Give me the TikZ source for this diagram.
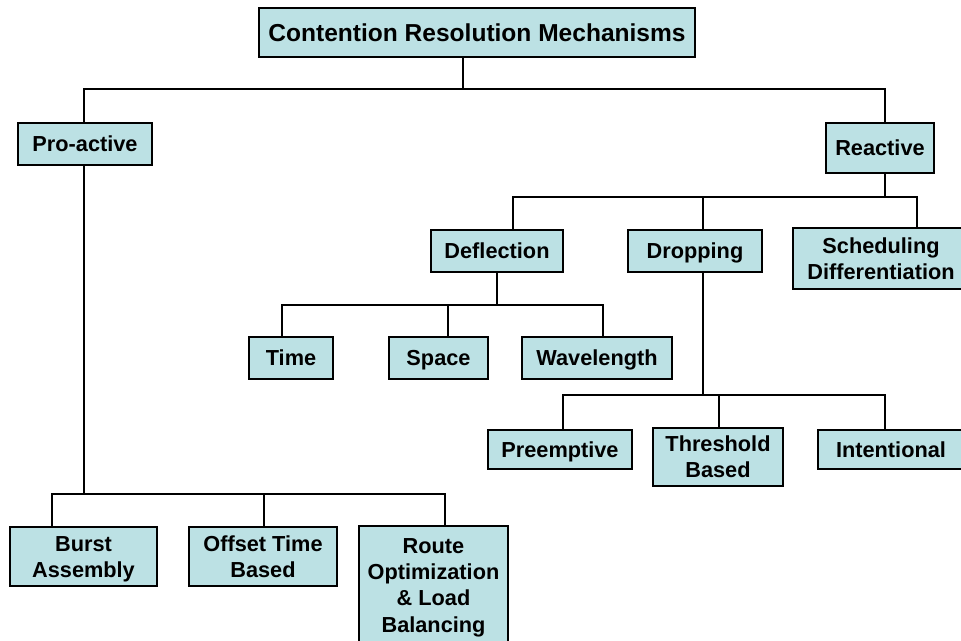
\documentclass[tikz,border=0pt]{standalone}
\usepackage{fontspec}
\setmainfont{Liberation Sans}
\definecolor{boxc}{RGB}{188,225,228}
\tikzset{
  bx/.style 2 args={draw=black, line width=2pt, fill=boxc, inner sep=0pt,
    align=center, font=\bfseries\fontsize{16.3pt}{19.6pt}\selectfont,
    text height=11.7pt, text depth=0pt,
    minimum width=#1*0.75pt, minimum height=#2*0.75pt},
  lines/.style={text height=11.7pt+#1*19.6pt},
  conn/.style={line width=2.1pt, line cap=rect}
}
\begin{document}
\begin{tikzpicture}[x=0.75pt,y=-0.75pt]
\clip (0,0) rectangle (961,641);
\fill[white] (0,0) rectangle (961,641);
% boxes
\node[bx={436}{49}, font=\bfseries\fontsize{18.4pt}{21pt}\selectfont, text height=13.2pt] (top) at (477,32.5) {Contention Resolution Mechanisms};
\node[bx={134}{42}] (pro) at (85,144) {Pro-active};
\node[bx={108}{50}] (reac) at (880,148) {Reactive};
\node[bx={176}{61}, lines=1] (sched) at (881,258.5) {Scheduling\\Differentiation};
\node[bx={132}{42}] (defl) at (497,251) {Deflection};
\node[bx={134}{42}] (drop) at (695,251) {Dropping};
\node[bx={84}{42}] (time) at (291,358) {Time};
\node[bx={99}{42}] (space) at (438.5,358) {Space};
\node[bx={150}{42}] (wave) at (597,358) {Wavelength};
\node[bx={144}{39}] (pre) at (560,449.5) {Preemptive};
\node[bx={130}{58}, lines=1] (thr) at (718,457) {Threshold\\Based};
\node[bx={146}{39}] (int) at (891,449.5) {Intentional};
\node[bx={147}{59}, lines=1] (burst) at (83.5,556.5) {Burst\\Assembly};
\node[bx={148}{59}, lines=1] (off) at (263,556.5) {Offset Time\\Based};
\node[bx={149}{118}, lines=3] (route) at (433.5,585) {Route\\Optimization\\\& Load\\Balancing};
% junction coordinates
\coordinate (j0) at (463,89);
\coordinate (a1) at (84,89);
\coordinate (a2) at (885,89);
\coordinate (j1) at (84,494);
\coordinate (b1) at (52,494);
\coordinate (b2) at (264,494);
\coordinate (b3) at (445,494);
\coordinate (j2) at (885,197);
\coordinate (c1) at (513,197);
\coordinate (c2) at (703,197);
\coordinate (c3) at (917,197);
\coordinate (j3) at (497,305);
\coordinate (d1) at (282,305);
\coordinate (d2) at (448,305);
\coordinate (d3) at (603,305);
\coordinate (j4) at (703,395);
\coordinate (e1) at (563,395);
\coordinate (e2) at (719,395);
\coordinate (e3) at (885,395);
% connectors
\draw[conn] (top.south -| j0) -- (j0);
\draw[conn] (pro.north -| a1) -- (a1) -- (a2) -- (reac.north -| a2);
\draw[conn] (pro.south -| j1) -- (j1);
\draw[conn] (burst.north -| b1) -- (b1) -- (b3) -- (route.north -| b3);
\draw[conn] (b2) -- (off.north -| b2);
\draw[conn] (reac.south -| j2) -- (j2);
\draw[conn] (defl.north -| c1) -- (c1) -- (c3) -- (sched.north -| c3);
\draw[conn] (c2) -- (drop.north -| c2);
\draw[conn] (defl.south -| j3) -- (j3);
\draw[conn] (time.north -| d1) -- (d1) -- (d3) -- (wave.north -| d3);
\draw[conn] (d2) -- (space.north -| d2);
\draw[conn] (drop.south -| j4) -- (j4);
\draw[conn] (pre.north -| e1) -- (e1) -- (e3) -- (int.north -| e3);
\draw[conn] (e2) -- (thr.north -| e2);
\end{tikzpicture}
\end{document}
